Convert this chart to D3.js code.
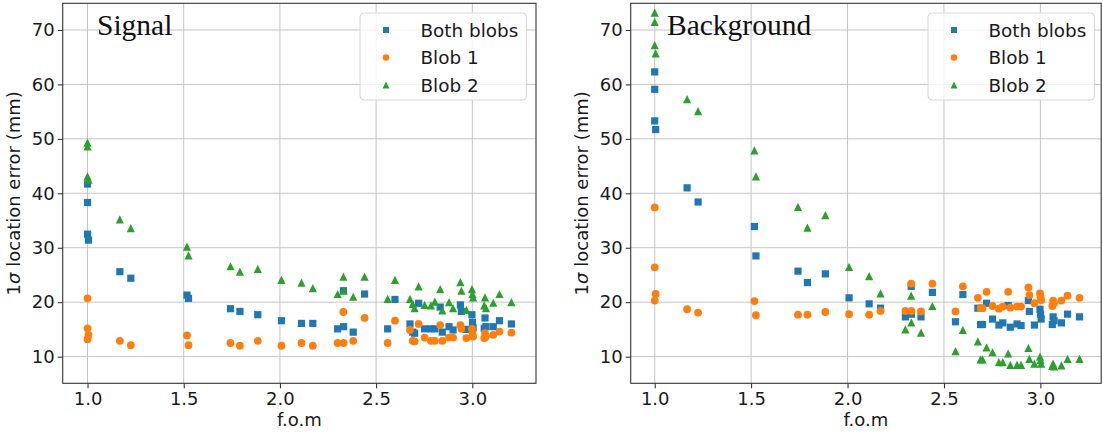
<!DOCTYPE html>
<html>
<head>
<meta charset="utf-8">
<script src="https://cdn.jsdelivr.net/npm/d3@7"></script>
<style>
  body { margin: 0; background: #fff; }
  svg { display: block; font-family: "DejaVu Sans", sans-serif; }
</style>
</head>
<body>
<svg id="chart" width="1103" height="434"></svg>
<script>
// f.o.m value of each configuration (shared by both panels)
const fom = [1.0, 1.0, 1.0, 1.005, 1.168, 1.225, 1.517, 1.525, 1.743, 1.792, 1.885, 2.008,
  2.112, 2.171, 2.300, 2.330, 2.331, 2.381, 2.440, 2.560, 2.598, 2.676, 2.690, 2.700,
  2.721, 2.752, 2.785, 2.805, 2.833, 2.844, 2.879, 2.900, 2.938, 2.943, 2.969,
  2.998, 3.001, 3.004, 3.062, 3.066, 3.071, 3.109, 3.141, 3.203];

// Signal panel
const sigBoth = [41.7, 38.3, 32.5, 31.4, 25.6, 24.4, 21.3, 20.7, 18.8, 18.3, 17.7, 16.6,
  16.1, 16.1, 15.1, 22.1, 15.5, 14.5, 21.5, 15.1, 20.5, 16.0, 14.5, 14.3,
  19.8, 15.1, 15.1, 15.1, 19.1, 14.5, 15.5, 14.9, 19.5, 18.3, 15.0,
  17.7, 16.3, 15.3, 15.2, 17.1, 15.5, 15.5, 16.6, 16.0];
const sigBlob1 = [20.7, 15.2, 13.2, 14.0, 12.9, 12.1, 13.9, 12.1, 12.5, 12.0, 12.9, 12.0,
  12.5, 12.0, 12.5, 18.2, 12.5, 12.9, 17.1, 12.5, 16.6, 14.9, 12.9, 12.8,
  16.0, 13.5, 12.9, 12.9, 15.8, 12.9, 13.5, 13.5, 15.8, 15.1, 13.4,
  15.1, 14.3, 13.7, 13.4, 14.3, 13.7, 14.0, 14.6, 14.4];
const sigBlob2 = [49.3, 48.6, 43.1, 42.5, 35.2, 33.6, 30.2, 28.6, 26.6, 25.6, 26.1, 24.1,
  23.6, 22.6, 21.5, 24.7, 22.1, 21.0, 24.7, 20.6, 24.1, 20.6, 19.7, 18.9,
  22.9, 19.5, 19.4, 20.1, 22.4, 18.5, 20.0, 18.9, 23.7, 22.1, 18.6,
  22.4, 21.5, 20.9, 19.4, 20.9, 18.9, 19.9, 21.5, 20.0];

// Background panel
const bkgBoth = [62.3, 59.1, 53.3, 51.7, 41.0, 38.4, 33.9, 28.5, 25.7, 23.6, 25.2, 20.8,
  19.7, 18.9, 17.3, 22.9, 17.8, 17.3, 21.8, 16.4, 21.4, 18.9, 15.9, 15.9,
  19.8, 16.9, 15.8, 16.2, 19.4, 15.4, 16.0, 15.7, 20.3, 18.3, 15.8,
  18.7, 17.8, 16.9, 15.9, 17.3, 16.6, 16.2, 17.8, 17.3];
const bkgBlob1 = [37.4, 26.4, 20.3, 21.5, 18.7, 18.1, 20.2, 17.6, 17.7, 17.7, 18.2, 17.8,
  17.7, 18.4, 18.4, 23.4, 18.4, 18.3, 23.4, 18.3, 22.9, 20.8, 18.9, 18.9,
  21.9, 19.3, 18.8, 19.2, 21.9, 19.0, 19.2, 19.2, 22.7, 21.3, 19.8,
  21.6, 21.0, 20.4, 19.3, 20.3, 19.8, 20.3, 21.2, 20.8];
const bkgBlob2 = [73.2, 71.5, 67.2, 65.7, 57.3, 55.1, 47.9, 43.1, 37.5, 33.7, 36.0, 26.5,
  24.8, 21.6, 15.0, 21.2, 16.3, 14.4, 19.3, 11.0, 14.9, 12.8, 9.5, 9.5,
  11.7, 10.8, 9.0, 9.0, 10.6, 8.5, 8.5, 8.5, 11.6, 9.6, 8.7,
  10.0, 9.4, 8.7, 8.3, 8.7, 8.2, 8.4, 9.6, 9.6];

const seriesNames = ["Both blobs", "Blob 1", "Blob 2"];
const xTicks = [1.0, 1.5, 2.0, 2.5, 3.0];
const yTicks = [10, 20, 30, 40, 50, 60, 70];

const colors = ["#1f77b4", "#ff7f0e", "#2ca02c"];

function markerPath(kind, s) {
  if (kind === 0) return `M${-s},${-s}H${s}V${s}H${-s}Z`;
  if (kind === 1) return `M${s},0A${s},${s} 0 1,1 ${-s},0A${s},${s} 0 1,1 ${s},0Z`;
  return `M0,${-s}L${s},${s}L${-s},${s}Z`;
}
const markerSize = [3.6, 3.9, 4.1];
const legendSize = [3.0, 3.3, 3.4];

const svg = d3.select("#chart");

const panels = [
  { title: "Signal", left: 62.7, right: 536, xdom: [0.871, 3.331],
    data: [sigBoth, sigBlob1, sigBlob2], titleX: 97, legendX: 360 },
  { title: "Background", left: 630.7, right: 1101.2, xdom: [0.8755, 3.3155],
    data: [bkgBoth, bkgBlob1, bkgBlob2], titleX: 667, legendX: 928 }
];

const plotTop = 3.3, plotBottom = 383.3;

panels.forEach(p => {
  const x = d3.scaleLinear().domain(p.xdom).range([p.left, p.right]);
  const y = d3.scaleLinear().domain([5.1, 74.9]).range([plotBottom, plotTop]);
  const g = svg.append("g");

  // grid
  g.append("g").selectAll("line").data(xTicks).join("line")
    .attr("x1", d => x(d)).attr("x2", d => x(d))
    .attr("y1", plotTop).attr("y2", plotBottom)
    .attr("stroke", "#c4c4c4").attr("stroke-width", 1);
  g.append("g").selectAll("line").data(yTicks).join("line")
    .attr("x1", p.left).attr("x2", p.right)
    .attr("y1", d => y(d)).attr("y2", d => y(d))
    .attr("stroke", "#c4c4c4").attr("stroke-width", 1);

  // axes
  const xAxis = g.append("g").attr("transform", `translate(0,${plotBottom})`)
    .call(d3.axisBottom(x).tickValues(xTicks).tickFormat(d3.format(".1f"))
      .tickSize(5).tickPadding(4));
  const yAxis = g.append("g").attr("transform", `translate(${p.left},0)`)
    .call(d3.axisLeft(y).tickValues(yTicks).tickSize(5).tickPadding(3));
  [xAxis, yAxis].forEach(a => {
    a.select(".domain").remove();
    a.selectAll("line").attr("stroke", "#222");
    a.selectAll("text").attr("font-size", 18).attr("fill", "#1a1a1a")
      .attr("font-family", "DejaVu Sans");
  });

  // spines
  g.append("rect").attr("x", p.left).attr("y", plotTop)
    .attr("width", p.right - p.left).attr("height", plotBottom - plotTop)
    .attr("fill", "none").attr("stroke", "#333").attr("stroke-width", 1.1);

  // points
  p.data.forEach((vals, k) => {
    g.append("g").selectAll("path").data(vals).join("path")
      .attr("d", markerPath(k, markerSize[k]))
      .attr("transform", (d, i) => `translate(${x(fom[i])},${y(d)})`)
      .attr("fill", colors[k]);
  });

  // title
  g.append("text").attr("x", p.titleX).attr("y", 35)
    .attr("font-family", "Liberation Serif, serif").attr("font-size", 29.5)
    .attr("fill", "#111").text(p.title);

  // axis labels
  g.append("text").attr("x", (p.left + p.right) / 2).attr("y", 426)
    .attr("text-anchor", "middle").attr("font-size", 18).attr("fill", "#1a1a1a")
    .text("f.o.m");
  const yl = g.append("text")
    .attr("transform", `translate(${p.left - 43},${(plotTop + plotBottom) / 2}) rotate(-90)`)
    .attr("text-anchor", "middle").attr("font-size", 18).attr("fill", "#1a1a1a");
  yl.append("tspan").text("1");
  yl.append("tspan").attr("font-style", "italic").text("σ");
  yl.append("tspan").text(" location error (mm)");

  // legend
  const lg = g.append("g").attr("transform", `translate(${p.legendX},13)`);
  lg.append("rect").attr("width", 166.5).attr("height", 87).attr("rx", 4)
    .attr("fill", "#fff").attr("fill-opacity", 0.8)
    .attr("stroke", "#d6d6d6").attr("stroke-width", 1);
  seriesNames.forEach((name, k) => {
    const ry = 17 + k * 27.5;
    lg.append("path").attr("d", markerPath(k, legendSize[k]))
      .attr("transform", `translate(26,${ry})`).attr("fill", colors[k]);
    lg.append("text").attr("x", 60.5).attr("y", ry + 6.5)
      .attr("font-size", 18.4).attr("fill", "#1a1a1a").text(name);
  });
});
</script>
</body>
</html>
